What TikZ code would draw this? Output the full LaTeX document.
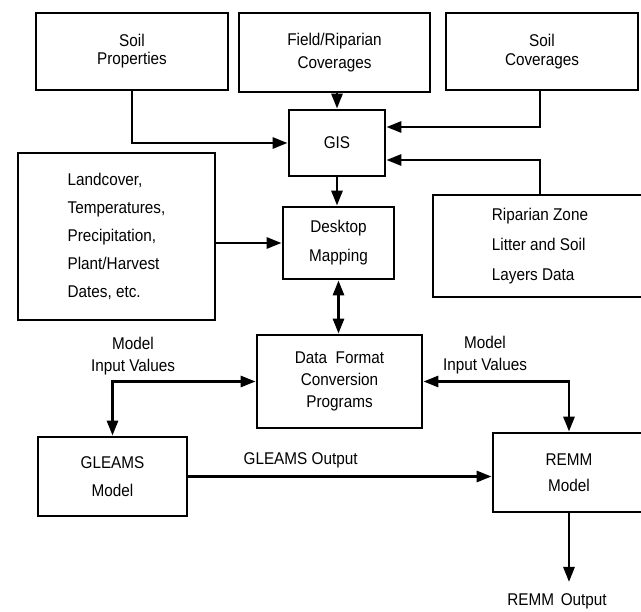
\documentclass[tikz,border=0pt]{standalone}
\usepackage{fontspec}
\setmainfont{Liberation Sans}[FakeStretch=0.9]
\usetikzlibrary{arrows.meta,positioning}

\begin{document}
\begin{tikzpicture}[x=1pt,y=-1pt,
    box/.style={draw,line width=2.8pt,align=center,inner sep=0pt,font=\fontsize{17}{22}\selectfont},
    lbl/.style={align=center,inner sep=0pt,font=\fontsize{17}{22}\selectfont},
    flow/.style={line width=2.8pt,-{Triangle[length=15pt,width=11pt]}},
    both/.style={line width=2.8pt,{Triangle[length=15pt,width=11pt]}-{Triangle[length=15pt,width=11pt]}}]
        % Draw page background
        \useasboundingbox[fill=white] (0,0) rectangle (641,612);
        \clip (0,0) rectangle (641,612);
        % Draw top row of inputs
        \node[box,minimum width=192pt,minimum height=77pt,font=\fontsize{17}{18}\selectfont] (soilprop) at (132,51.5) {Soil\\Properties};
        \node[box,minimum width=191pt,minimum height=79pt,font=\fontsize{17}{23}\selectfont] (fieldcov) at (334.5,52.5) {Field/Riparian\\Coverages};
        \node[box,minimum width=192pt,minimum height=77pt,font=\fontsize{17}{19}\selectfont] (soilcov) at (542,51.5) {Soil\\Coverages};
        % Draw GIS and mapping
        \node[box,minimum width=96pt,minimum height=66pt] (gis) at (337,143) {GIS};
        \node[box,minimum width=111pt,minimum height=72pt,font=\fontsize{17}{29}\selectfont] (desktop) at (338.5,243) {Desktop\\Mapping};
        % Draw side data boxes
        \node[box,align=left,minimum width=197pt,minimum height=167pt,font=\fontsize{17}{28}\selectfont] (landcover) at (116.5,236.5) {Landcover,\\Temperatures,\\Precipitation,\\Plant/Harvest\\Dates, etc.};
        \node[box,align=left,minimum width=214pt,minimum height=102pt,font=\fontsize{17}{30}\selectfont] (riparian) at (540,246) {Riparian Zone\\Litter and Soil\\Layers Data};
        % Draw conversion and models
        \node[box,minimum width=165pt,minimum height=93pt] (dataconv) at (339.5,381.5) {Data\hspace{0.5em}Format\\Conversion\\Programs};
        \node[box,minimum width=149pt,minimum height=79pt,font=\fontsize{17}{28}\selectfont] (gleams) at (112.5,476.5) {GLEAMS\\Model};
        \node[box,minimum width=152pt,minimum height=79pt,font=\fontsize{17}{26}\selectfont] (remm) at (569,472.5) {REMM\\Model};
        % Draw free labels
        \node[lbl] (leftin) at (133,356) {Model\\Input Values};
        \node[lbl] (rightin) at (485,355) {Model\\Input Values};
        \node[lbl] (remmout) at (557,601) {REMM\hspace{0.4em}Output};
        \coordinate (remmend) at (569,582);
        % Draw arrows into GIS
        \draw[flow] (soilprop.south) |- (gis.west);
        \draw[flow] (fieldcov.south -| gis.north) -- (gis.north);
        \draw[flow] ([xshift=-2pt]soilcov.south) |- ([yshift=16pt]gis.east);
        \draw[flow] (riparian.north) |- ([yshift=-17pt]gis.east);
        % Draw arrows through mapping
        \draw[flow] (gis.south) -- (gis.south |- desktop.north);
        \draw[flow] (landcover.east |- desktop.west) -- (desktop.west);
        \draw[both] (desktop.south) -- (desktop.south |- dataconv.north);
        % Draw model links
        \draw[both] (gleams.north) |- (dataconv.west);
        \draw[both] (remm.north) |- (dataconv.east);
        \draw[flow] (gleams.east) -- (gleams.east -| remm.west) node[lbl,above=7pt,pos=0.37] (gleamsout) {GLEAMS Output};
        \draw[flow] (remm.south) -- (remmend);
    \end{tikzpicture}
\end{document}
